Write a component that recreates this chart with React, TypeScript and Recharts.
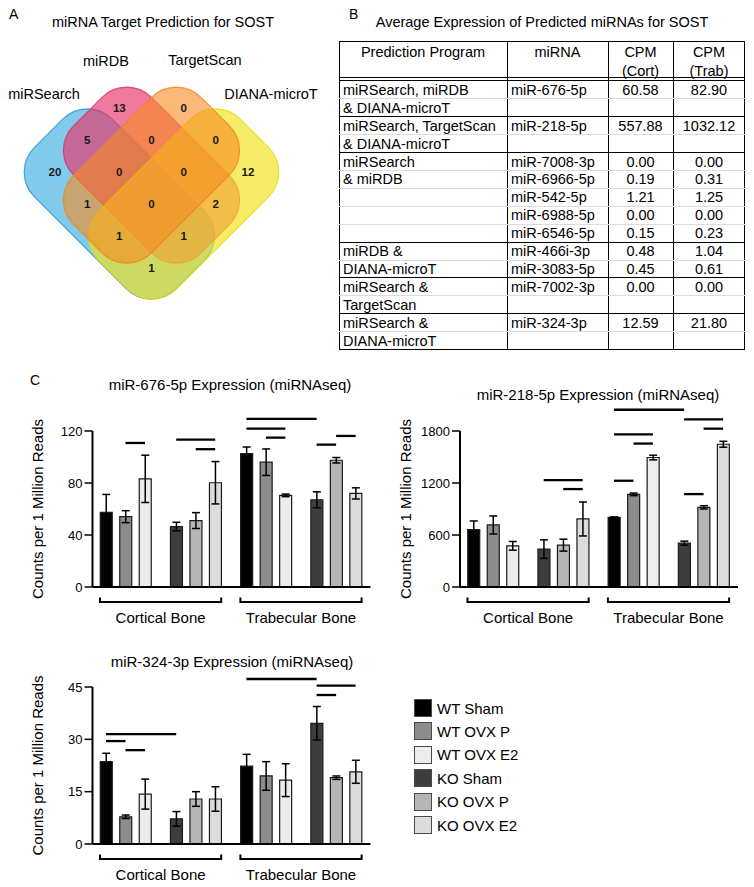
import React from 'react';
import {
  BarChart,
  Bar,
  XAxis,
  YAxis,
  Cell,
  ErrorBar,
  ReferenceLine,
  ScatterChart,
  Scatter,
} from 'recharts';

const FONT = '"Liberation Sans", Arial, Helvetica, sans-serif';

// ---- Panel A: Venn counts ----
const vennSetNames = ['miRSearch', 'miRDB', 'TargetScan', 'DIANA-microT'];
const vennRegions = ['B', 'C', 'AB', 'BC', 'CD', 'A', 'ABC', 'BCD', 'D', 'AC', 'ABCD', 'BD', 'ACD', 'ABD', 'AD'];
const vennCounts = [13, 0, 5, 0, 0, 20, 0, 0, 12, 1, 0, 2, 1, 1, 1];

// ---- Panel B: table ----
const tablePrograms = [
  ['miRSearch, miRDB', '& DIANA-microT'],
  ['miRSearch, TargetScan', '& DIANA-microT'],
  ['miRSearch', '& miRDB'],
  ['miRDB &', 'DIANA-microT'],
  ['miRSearch &', 'TargetScan'],
  ['miRSearch &', 'DIANA-microT'],
];
const tableMirnas = [
  ['miR-676-5p'],
  ['miR-218-5p'],
  ['miR-7008-3p', 'miR-6966-5p', 'miR-542-5p', 'miR-6988-5p', 'miR-6546-5p'],
  ['miR-466i-3p', 'miR-3083-5p'],
  ['miR-7002-3p'],
  ['miR-324-3p'],
];
const tableCort = [['60.58'], ['557.88'], ['0.00', '0.19', '1.21', '0.00', '0.15'], ['0.48', '0.45'], ['0.00'], ['12.59']];
const tableTrab = [['82.90'], ['1032.12'], ['0.00', '0.31', '1.25', '0.00', '0.23'], ['1.04', '0.61'], ['0.00'], ['21.80']];

// ---- Panel C: bar charts ----
const seriesNames = ['WT Sham', 'WT OVX P', 'WT OVX E2', 'KO Sham', 'KO OVX P', 'KO OVX E2'];
const seriesColors = ['#000000', '#8c8c8c', '#ececec', '#3d3d3d', '#b6b6b6', '#dcdcdc'];
const tissues = ['Cortical Bone', 'Trabecular Bone'];

// bar order: cortical WT x3, cortical KO x3, trabecular WT x3, trabecular KO x3
const mir676Means = [57.4, 54.1, 83.2, 46.5, 51.1, 80.2, 102.6, 96.0, 70.5, 67.1, 97.5, 72.0];
const mir676Errors = [13.8, 4.6, 18.2, 3.3, 6.1, 16.3, 5.1, 10.2, 1.0, 6.1, 2.1, 4.3];
const mir676Sig = [[1, 2, 110.8], [3, 5, 113.4], [4, 5, 106], [6, 9, 129.4], [6, 8, 121.8], [7, 8, 114.9], [9, 10, 109.5], [10, 11, 116.2]];

const mir218Means = [663, 716, 475, 437, 483, 785, 804, 1069, 1494, 506, 919, 1647];
const mir218Errors = [99, 104, 50, 107, 69, 196, 5, 15, 27, 23, 19, 34];
const mir218Sig = [[3, 5, 1233], [4, 5, 1130], [6, 9, 2045], [6, 8, 1762], [7, 8, 1655], [6, 7, 1226], [9, 11, 1934], [10, 11, 1827], [9, 10, 1072]];

const mir324Means = [23.6, 7.8, 14.3, 7.2, 12.9, 12.9, 22.3, 19.5, 18.3, 34.6, 19.0, 20.7];
const mir324Errors = [2.4, 0.5, 4.3, 2.1, 2.1, 3.5, 3.4, 4.1, 4.7, 4.8, 0.5, 3.3];
const mir324Sig = [[0, 3, 31.5], [0, 1, 29.5], [1, 2, 26.9], [6, 9, 47.3], [9, 11, 45.4], [9, 10, 42.7]];

// ---------- helpers ----------
function Txt({ x, y, size, children, align = 'center', weight = 400 }: any) {
  const style: React.CSSProperties = {
    position: 'absolute',
    top: y - size * 0.6,
    lineHeight: `${size * 1.2}px`,
    fontSize: size,
    fontWeight: weight,
    whiteSpace: 'nowrap',
    fontFamily: FONT,
    color: '#000',
  };
  if (align === 'center') Object.assign(style, { left: x - 250, width: 500, textAlign: 'center' });
  else Object.assign(style, { left: x });
  return <div style={style}>{children}</div>;
}

// ---------- Venn ----------
const SET_SHAPES: Record<string, any> = {
  A: { i: 2, j: 3, rot: 45, len: 200, fill: '#1ea0dc', stroke: '#1b94cf', op: 0.55 },
  B: { i: 3, j: 2.1, rot: 45, len: 180, fill: '#e6336a', stroke: '#de2a60', op: 0.65 },
  D: { i: 4, j: 3, rot: -45, len: 200, fill: '#f3e21a', stroke: '#ecd800', op: 0.65 },
  C: { i: 3, j: 2.1, rot: -45, len: 180, fill: '#f68b1f', stroke: '#f08412', op: 0.6 },
};
const REGION_LATTICE: Record<string, [number, number]> = {
  B: [2, 0], C: [4, 0], AB: [1, 1], BC: [3, 1], CD: [5, 1], A: [0, 2], ABC: [2, 2], BCD: [4, 2],
  D: [6, 2], AC: [1, 3], ABCD: [3, 3], BD: [5, 3], ACD: [2, 4], ABD: [4, 4], AD: [3, 5],
};

const renderSet = (p: any) => {
  const s = p.payload;
  const w = 110;
  return (
    <rect
      x={p.cx - s.len / 2}
      y={p.cy - w / 2}
      width={s.len}
      height={w}
      rx={35}
      ry={35}
      transform={`rotate(${s.rot} ${p.cx} ${p.cy})`}
      fill={s.fill}
      fillOpacity={s.op}
      stroke={s.stroke}
      strokeOpacity={0.8}
      strokeWidth={1.2}
    />
  );
};

const renderCount = (p: any) => (
  <text x={p.cx} y={p.cy} textAnchor="middle" dominantBaseline="central" fontSize={11.5} fontWeight={700} fontFamily={FONT} fill="#1a1a1a">
    {p.payload.count}
  </text>
);

function VennPanel() {
  const setData = Object.keys(SET_SHAPES).map((k) => ({ key: k, ...SET_SHAPES[k] }));
  const regionData = vennRegions.map((r, n) => ({ i: REGION_LATTICE[r][0], j: REGION_LATTICE[r][1], count: vennCounts[n] }));
  return (
    <>
      <div style={{ position: 'absolute', left: 0, top: 0 }}>
        <ScatterChart width={330} height={330} margin={{ top: 0, right: 0, bottom: 0, left: 0 }}>
          <XAxis type="number" dataKey="i" domain={[-1.71, 8.55]} allowDataOverflow hide />
          <YAxis type="number" dataKey="j" domain={[-3.375, 6.94]} allowDataOverflow reversed hide />
          <Scatter data={setData} shape={renderSet} isAnimationActive={false} />
          <Scatter data={regionData} shape={renderCount} isAnimationActive={false} />
        </ScatterChart>
      </div>
      <Txt x={163} y={23} size={14.5}>miRNA Target Prediction for SOST</Txt>
      <Txt x={44} y={95} size={14.5}>{vennSetNames[0]}</Txt>
      <Txt x={106} y={62} size={14.5}>{vennSetNames[1]}</Txt>
      <Txt x={205} y={61} size={14.5}>{vennSetNames[2]}</Txt>
      <Txt x={271} y={95} size={14.5}>{vennSetNames[3]}</Txt>
    </>
  );
}

// ---------- Table ----------
const T_COLS = [339, 507, 608, 673, 745];
const T_TOP = 41;
const T_BODY = 81;
const T_LINE = 17.9;

function ExpressionTable() {
  const items: React.ReactNode[] = [];
  const hLine = (y: number, color: string, key: string) =>
    items.push(<div key={key} style={{ position: 'absolute', left: T_COLS[0], width: T_COLS[4] - T_COLS[0], top: y - 0.5, height: 1, background: color }} />);
  const cellTxt = (col: number, cy: number, text: string, key: string, center: boolean) =>
    items.push(
      <div
        key={key}
        style={{
          position: 'absolute',
          left: center ? T_COLS[col] : T_COLS[col] + 4,
          width: center ? T_COLS[col + 1] - T_COLS[col] : undefined,
          textAlign: center ? 'center' : 'left',
          top: cy - 9,
          height: 18,
          lineHeight: '18px',
          fontSize: 14.5,
          whiteSpace: 'nowrap',
          fontFamily: FONT,
        }}
      >
        {text}
      </div>
    );

  cellTxt(0, 52, 'Prediction Program', 'h0', true);
  cellTxt(1, 52, 'miRNA', 'h1', true);
  cellTxt(2, 52, 'CPM', 'h2', true);
  cellTxt(2, 70.5, '(Cort)', 'h2b', true);
  cellTxt(3, 52, 'CPM', 'h3', true);
  cellTxt(3, 70.5, '(Trab)', 'h3b', true);
  hLine(77.8, '#000', 'dbl1');
  hLine(80.4, '#000', 'dbl2');

  let line = 0;
  tablePrograms.forEach((prog, g) => {
    const n = Math.max(prog.length, tableMirnas[g].length);
    for (let k = 0; k < n; k++) {
      const cy = T_BODY + (line + k + 0.5) * T_LINE;
      if (prog[k]) cellTxt(0, cy, prog[k], `p${g}${k}`, false);
      if (tableMirnas[g][k]) cellTxt(1, cy, tableMirnas[g][k], `m${g}${k}`, false);
      if (tableCort[g][k]) cellTxt(2, cy, tableCort[g][k], `c${g}${k}`, true);
      if (tableTrab[g][k]) cellTxt(3, cy, tableTrab[g][k], `t${g}${k}`, true);
      if (k < n - 1) hLine(T_BODY + (line + k + 1) * T_LINE, '#dcdcdc', `l${g}${k}`);
    }
    line += n;
    if (g < tablePrograms.length - 1) hLine(T_BODY + line * T_LINE, '#000', `g${g}`);
  });
  const bottom = T_BODY + line * T_LINE;

  return (
    <>
      <Txt x={542} y={23} size={14.5}>Average Expression of Predicted miRNAs for SOST</Txt>
      <div
        style={{
          position: 'absolute',
          left: T_COLS[0],
          top: T_TOP,
          width: T_COLS[4] - T_COLS[0],
          height: bottom - T_TOP,
          border: '1px solid #000',
          boxSizing: 'border-box',
        }}
      />
      {T_COLS.slice(1, 4).map((x) => (
        <div key={x} style={{ position: 'absolute', left: x - 0.5, top: T_TOP, width: 1, height: bottom - T_TOP, background: '#000' }} />
      ))}
      {items}
    </>
  );
}

// ---------- Bar charts ----------
const PX_PER_SLOT = 19.5;
const GROUP_STRIDE = 3.6;
const PLOT_W = 278;
const FIRST_OFFSET = 13.5;
const LEFT_PAD = 12;
const barPos = (k: number) => Math.floor(k / 3) * GROUP_STRIDE + (k % 3);
const X_DOMAIN = [-FIRST_OFFSET / PX_PER_SLOT, (PLOT_W - FIRST_OFFSET) / PX_PER_SLOT];
const TISSUE_CENTERS = [(barPos(0) + barPos(5)) / 2, (barPos(6) + barPos(11)) / 2];
const BRACKET_HALF = ((barPos(5) - barPos(0)) / 2) * PX_PER_SLOT + 6;

const TissueTick = (props: any) => {
  const { x, y, payload } = props;
  const idx = payload.value < 6 ? 0 : 1;
  return (
    <g>
      <path
        d={`M${x - BRACKET_HALF},${y + 10.5} V${y + 15} H${x + BRACKET_HALF} V${y + 10.5}`}
        stroke="#000"
        strokeWidth={2}
        fill="none"
      />
      <text x={x} y={y + 30} textAnchor="middle" dominantBaseline="central" fontSize={15} fontFamily={FONT} fill="#000">
        {tissues[idx]}
      </text>
    </g>
  );
};

function ExpressionChart({ title, means, errors, sig, yMax, yTicks, plotLeft, plotTop, plotHeight, yLabelX, titleX, titleY }: any) {
  const data = means.map((mean: number, k: number) => ({
    pos: barPos(k),
    mean,
    err: errors[k],
    series: (Math.floor(k / 3) % 2) * 3 + (k % 3),
  }));
  const axisLeft = yLabelX - 5;
  const svgLeft = axisLeft - LEFT_PAD;
  const axisW = plotLeft - axisLeft;
  const top = 30;
  const width = LEFT_PAD + axisW + PLOT_W + 6;
  const height = top + plotHeight + 45;
  return (
    <>
      <Txt x={titleX} y={titleY} size={15}>{title}</Txt>
      <div style={{ position: 'absolute', left: svgLeft, top: plotTop - top }}>
        <BarChart width={width} height={height} data={data} margin={{ top, right: 6, bottom: 0, left: LEFT_PAD }}>
          <XAxis
            type="number"
            dataKey="pos"
            domain={X_DOMAIN}
            allowDataOverflow
            ticks={TISSUE_CENTERS}
            interval={0}
            tickLine={false}
            tickSize={0}
            tickMargin={0}
            height={45}
            axisLine={{ stroke: '#000', strokeWidth: 2 }}
            tick={<TissueTick />}
          />
          <YAxis
            domain={[0, yMax]}
            ticks={yTicks}
            allowDataOverflow
            interval={0}
            width={axisW}
            tickSize={8}
            tickMargin={2}
            axisLine={{ stroke: '#000', strokeWidth: 2 }}
            tickLine={{ stroke: '#000', strokeWidth: 1.5 }}
            tick={{ fill: '#000', fontSize: 13, fontFamily: FONT }}
            label={{
              value: 'Counts per 1 Million Reads',
              angle: -90,
              position: 'insideLeft',
              offset: 5,
              style: { textAnchor: 'middle', fontSize: 15, fill: '#000', fontFamily: FONT },
            }}
          />
          <Bar dataKey="mean" barSize={12} stroke="#1a1a1a" strokeWidth={1.2} isAnimationActive={false}>
            {data.map((d: any, k: number) => (
              <Cell key={k} fill={seriesColors[d.series]} />
            ))}
            <ErrorBar dataKey="err" width={4} stroke="#000" strokeWidth={1.5} direction="y" isAnimationActive={false} />
          </Bar>
          {sig.map(([a, b, h]: number[], n: number) => (
            <ReferenceLine
              key={n}
              segment={[{ x: barPos(a), y: h }, { x: barPos(b), y: h }]}
              stroke="#000"
              strokeWidth={2.3}
              ifOverflow="visible"
            />
          ))}
        </BarChart>
      </div>
    </>
  );
}

function GroupLegend() {
  return (
    <>
      {seriesNames.map((name, s) => (
        <div
          key={name}
          style={{ position: 'absolute', left: 414, top: 699 + s * 23.4, height: 18, display: 'flex', alignItems: 'center', fontFamily: FONT }}
        >
          <div style={{ width: 18, height: 18, background: seriesColors[s], border: '1.5px solid #4a4a4a', boxSizing: 'border-box' }} />
          <span style={{ marginLeft: 5, fontSize: 15, whiteSpace: 'nowrap' }}>{name}</span>
        </div>
      ))}
    </>
  );
}

export default function App() {
  return (
    <div style={{ position: 'absolute', left: 0, top: 0, width: 754, height: 887, background: '#fff', overflow: 'hidden', fontFamily: FONT }}>
      <Txt x={9} y={14} size={14} align="left">A</Txt>
      <Txt x={349} y={14} size={14} align="left">B</Txt>
      <Txt x={30} y={380} size={14} align="left">C</Txt>
      <VennPanel />
      <ExpressionTable />
      <ExpressionChart
        title="miR-676-5p Expression (miRNAseq)"
        means={mir676Means}
        errors={mir676Errors}
        sig={mir676Sig}
        yMax={120}
        yTicks={[0, 40, 80, 120]}
        plotLeft={92.5}
        plotTop={431}
        plotHeight={156}
        yLabelX={38}
        titleX={230}
        titleY={385}
      />
      <ExpressionChart
        title="miR-218-5p Expression (miRNAseq)"
        means={mir218Means}
        errors={mir218Errors}
        sig={mir218Sig}
        yMax={1800}
        yTicks={[0, 600, 1200, 1800]}
        plotLeft={460}
        plotTop={431}
        plotHeight={156}
        yLabelX={406}
        titleX={598}
        titleY={395}
      />
      <ExpressionChart
        title="miR-324-3p Expression (miRNAseq)"
        means={mir324Means}
        errors={mir324Errors}
        sig={mir324Sig}
        yMax={45}
        yTicks={[0, 15, 30, 45]}
        plotLeft={92.5}
        plotTop={687}
        plotHeight={157}
        yLabelX={38}
        titleX={232}
        titleY={662}
      />
      <GroupLegend />
    </div>
  );
}
